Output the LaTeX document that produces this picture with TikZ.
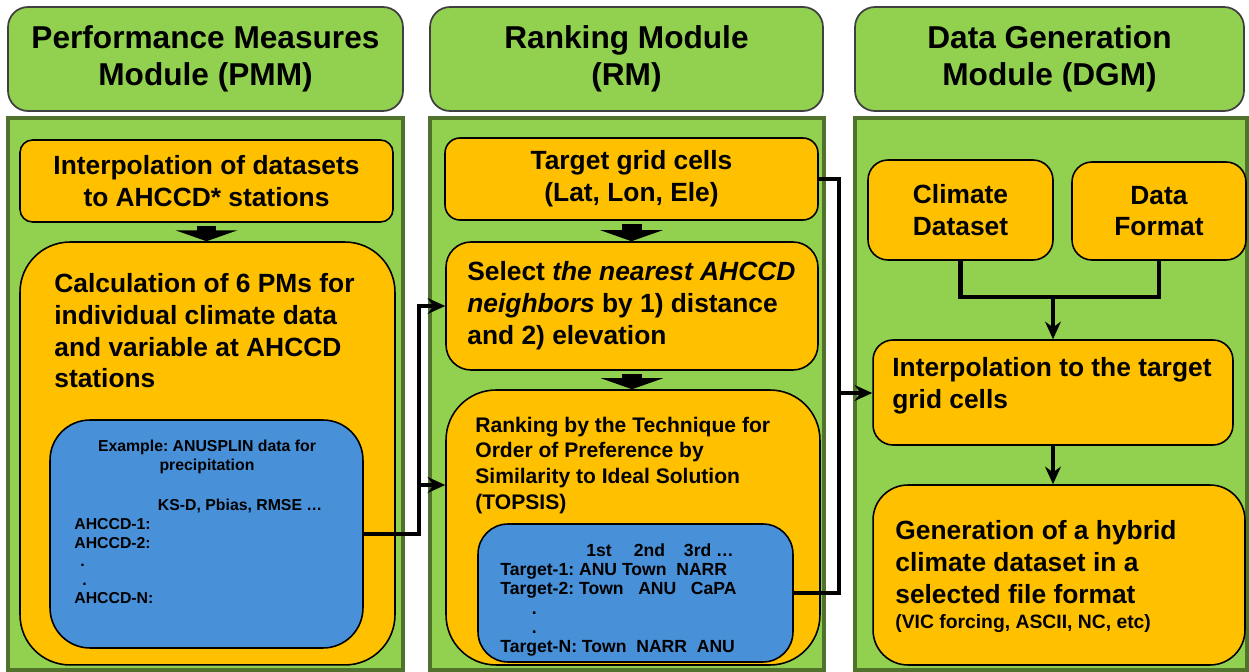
\documentclass[tikz,border=0pt]{standalone}
\usepackage{fontspec}
\setmainfont{Liberation Sans}
\usetikzlibrary{arrows.meta}
\definecolor{pmgreen}{RGB}{146,208,80}
\definecolor{pmgold}{RGB}{255,192,0}
\definecolor{pmblue}{RGB}{72,144,216}
\frenchspacing
\begin{document}
\begin{tikzpicture}[x=0.02cm, y=-0.02cm,
		every node/.style={font=\bfseries},
		head/.style={draw=black!75, fill=pmgreen, rounded corners=0.4cm, line width=1pt, minimum width=#1, minimum height=2.08cm, align=center, font=\fontsize{18}{21}\selectfont\bfseries},
		panel/.style={draw=pmgreen!55!black, fill=pmgreen, line width=2pt, minimum width=#1, minimum height=11.04cm},
		goldbox/.style={draw=black, fill=pmgold, line width=0.9pt, rounded corners=0.4cm},
		bluebox/.style={draw=black, fill=pmblue, line width=0.9pt, rounded corners=0.8cm},
		bigtxt/.style={font=\fontsize{15}{18}\selectfont\bfseries},
		txt/.style={inner sep=0pt, anchor=north west, align=left},
		conn/.style={line width=2.5pt, -{Stealth[length=10pt,width=9pt]}},
		bus/.style={line width=2.5pt},
		blockarrow/.style={line width=0.4cm, -{Triangle[length=0.22cm,width=1.24cm]}, shorten <=2pt}]
		\useasboundingbox (0,0) rectangle (1249,672);
		%module headers
		\node[head=7.9cm] (hPMM) at (205.5,59) {Performance Measures\\Module (PMM)};
		\node[head=7.86cm] (hRM) at (626.5,59) {Ranking Module\\(RM)};
		\node[head=7.78cm] (hDGM) at (1049.5,59) {Data Generation\\Module (DGM)};
		
		%module panels
		\node[panel=7.9cm] (pPMM) at (205.5,394) {};
		\node[panel=7.88cm] (pRM) at (627,394) {};
		\node[panel=7.84cm] (pDGM) at (1051,394) {};
		
		%PMM
		\node[goldbox, bigtxt, rounded corners=0.25cm, minimum width=7.46cm, minimum height=1.64cm, align=center] (pInterp) at (206.5,181) {Interpolation of datasets\\to AHCCD* stations};
		\node[goldbox, rounded corners=1cm, minimum width=7.5cm, minimum height=8.46cm] (pCalc) at (207.5,453.5) {};
		\node[txt, bigtxt] (pCalcTxt) at (54,273.5) {Calculation of 6 PMs for\\individual climate data\\and variable at AHCCD\\stations};
		\node[bluebox, minimum width=6.26cm, minimum height=4.56cm] (pBlue) at (206.5,534) {};
		\node[inner sep=0pt, anchor=north, align=center, font=\fontsize{9}{10.8}\selectfont\bfseries] (pBlueTtl) at (207,440) {Example: ANUSPLIN data for\\precipitation};
		\node[txt, font=\fontsize{9}{10.6}\selectfont\bfseries] (pBlueTab) at (74,499) {\hspace*{47.6pt}KS-D, Pbias, RMSE …\\AHCCD-1:\\AHCCD-2:\\\hspace*{3.4pt}.\\\hspace*{4.5pt}.\\AHCCD-N:};
		
		%RM
		\node[goldbox, bigtxt, rounded corners=0.3cm, minimum width=7.46cm, minimum height=1.64cm, align=center] (rTarget) at (631.5,179) {Target grid cells\\(Lat, Lon, Ele)};
		\node[goldbox, rounded corners=0.5cm, minimum width=7.44cm, minimum height=2.56cm] (rSelect) at (632,306) {};
		\node[txt, bigtxt] (rSelectTxt) at (467,261.5) {Select \textit{the nearest AHCCD}\\\textit{neighbors} by 1) distance\\and 2) elevation};
		\node[goldbox, rounded corners=1cm, minimum width=7.48cm, minimum height=5.5cm] (rRank) at (633,527.5) {};
		\node[txt, font=\fontsize{12}{14.7}\selectfont\bfseries] (rRankTxt) at (475,416.5) {Ranking by the Technique for\\Order of Preference by\\Similarity to Ideal Solution\\(TOPSIS)};
		\node[bluebox, rounded corners=0.6cm, minimum width=6.3cm, minimum height=2.76cm] (rBlue) at (635.5,593) {};
		\node[txt, font=\fontsize{10}{11}\selectfont\bfseries] (rBlueTab) at (500,543) {\hspace*{49pt}1st\hspace{12.5pt}2nd\hspace{10.8pt}3rd …\\Target-1: ANU Town\ \ NARR\\Target-2: Town\ \ \ ANU\ \ \ CaPA\\\hspace*{18pt}.\\\hspace*{18pt}.\\Target-N: Town\ \ NARR\ \ ANU};
		
		%DGM
		\node[goldbox, bigtxt, minimum width=3.7cm, minimum height=2cm, align=center] (dClim) at (960.5,210) {Climate\\Dataset};
		\node[goldbox, bigtxt, minimum width=3.48cm, minimum height=1.96cm, align=center] (dFmt) at (1159,211) {Data\\Format};
		\node[goldbox, minimum width=7.2cm, minimum height=2.1cm] (dInterp) at (1053,392.5) {};
		\node[txt, bigtxt] (dInterpTxt) at (892,357.5) {Interpolation to the target\\grid cells};
		\node[goldbox, rounded corners=0.7cm, minimum width=7.44cm, minimum height=3.6cm] (dGen) at (1059,575) {};
		\node[txt, bigtxt] (dGenTxt) at (895,520.5) {Generation of a hybrid\\climate dataset in a\\selected file format\\[-3.5pt]{\fontsize{11}{13}\selectfont(VIC forcing, ASCII, NC, etc)}};
		
		%block arrows
		\draw[blockarrow] (pInterp.south) -- (pInterp.south |- pCalc.north);
		\draw[blockarrow] (rTarget.south) -- (rTarget.south |- rSelect.north);
		\draw[blockarrow] (rSelect.south) -- (rSelect.south |- rRank.north);
		
		%links
		\draw[conn] (pBlue.east) -- ++(55,0) |- (rSelect.west);
		\coordinate (pmBus) at (418,485);
		\draw[conn] (pmBus) -- (pmBus -| rRank.west);
		\draw[bus] (rTarget.east) -- ++(20,0) |- (rBlue.east);
		\coordinate (rmBus) at (838,393);
		\draw[conn] (rmBus) -- (rmBus -| dInterp.west);
		\coordinate (dJoin) at (1053,297);
		\draw[bus] (dClim.south) |- (dJoin) -| (dFmt.south);
		\draw[conn] (dJoin) -- (dInterp.north);
		\draw[conn] (dInterp.south) -- (dInterp.south |- dGen.north);
\end{tikzpicture}
\end{document}
